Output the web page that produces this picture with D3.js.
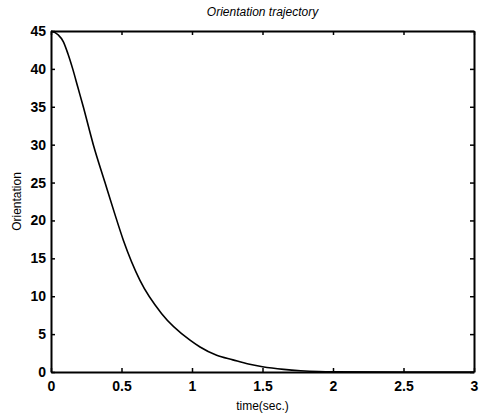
<!DOCTYPE html>
<html>
<head>
<meta charset="utf-8">
<script src="https://cdn.jsdelivr.net/npm/d3@7.9.0/dist/d3.min.js"></script>
<style>
  body { margin: 0; background: #fff; }
  svg { display: block; font-family: "Liberation Sans", Arial, sans-serif; }
</style>
</head>
<body>
<svg id="chart"></svg>
<script>
const timeVals = [0, 0.05, 0.087, 0.12, 0.154, 0.19, 0.229, 0.3, 0.383, 0.45, 0.513, 0.631, 0.785, 0.986, 1.057, 1.175, 1.29, 1.4, 1.5, 1.65, 1.77, 1.9, 2.0, 2.5, 3.0];
const orientVals = [45, 44.5, 43.6, 42, 40, 37.6, 35, 30, 25, 21, 17.4, 12.1, 7.7, 4.2, 3.3, 2.2, 1.6, 1.05, 0.7, 0.35, 0.17, 0.06, 0.03, 0, 0];
const xTicks = [0, 0.5, 1, 1.5, 2, 2.5, 3];
const yTicks = [0, 5, 10, 15, 20, 25, 30, 35, 40, 45];

const width = 484;
const height = 417;
const margin = { top: 31, right: 10, bottom: 45, left: 51 };

const svg = d3.select("#chart").attr("width", width).attr("height", height);

const x = d3.scaleLinear().domain([0, 3]).range([margin.left, width - margin.right]);
const y = d3.scaleLinear().domain([0, 45]).range([height - margin.bottom, margin.top]);

const data = timeVals.map((t, i) => ({ t, v: orientVals[i] }));

// axes: ticks inward, box style
const tickLen = 4;
svg.append("g")
  .attr("transform", `translate(0,${y(0)})`)
  .call(d3.axisBottom(x).tickValues(xTicks).tickSizeInner(-tickLen).tickSizeOuter(0).tickPadding(9)
    .tickFormat(d => String(d)))
  .call(g => g.selectAll("text").attr("font-size", 14).attr("font-weight", "bold").attr("fill", "#000"));

svg.append("g")
  .attr("transform", `translate(${x(0)},0)`)
  .call(d3.axisLeft(y).tickValues(yTicks).tickSizeInner(-tickLen).tickSizeOuter(0).tickPadding(5))
  .call(g => g.selectAll("text").attr("font-size", 14).attr("font-weight", "bold").attr("fill", "#000"));

svg.append("g")
  .attr("transform", `translate(0,${y(45)})`)
  .call(d3.axisTop(x).tickValues(xTicks).tickSizeInner(-tickLen).tickSizeOuter(0).tickFormat(""));

svg.append("g")
  .attr("transform", `translate(${x(3)},0)`)
  .call(d3.axisRight(y).tickValues(yTicks).tickSizeInner(-tickLen).tickSizeOuter(0).tickFormat(""));

svg.selectAll(".domain").attr("stroke", "#000").attr("stroke-width", 2);
svg.selectAll(".tick line").attr("stroke", "#000").attr("stroke-width", 1.5);

svg.append("path")
  .datum(data)
  .attr("fill", "none")
  .attr("stroke", "#000")
  .attr("stroke-width", 1.6)
  .attr("d", d3.line().x(d => x(d.t)).y(d => y(d.v)).curve(d3.curveMonotoneX));

svg.append("text")
  .attr("x", (x(0) + x(3)) / 2)
  .attr("y", 16)
  .attr("text-anchor", "middle")
  .attr("font-size", 12)
  .attr("font-style", "italic")
  .text("Orientation trajectory");

svg.append("text")
  .attr("x", (x(0) + x(3)) / 2)
  .attr("y", 410)
  .attr("text-anchor", "middle")
  .attr("font-size", 12)
  .text("time(sec.)");

svg.append("text")
  .attr("transform", `translate(21,${(y(0) + y(45)) / 2}) rotate(-90)`)
  .attr("text-anchor", "middle")
  .attr("font-size", 12)
  .text("Orientation");
</script>
</body>
</html>
